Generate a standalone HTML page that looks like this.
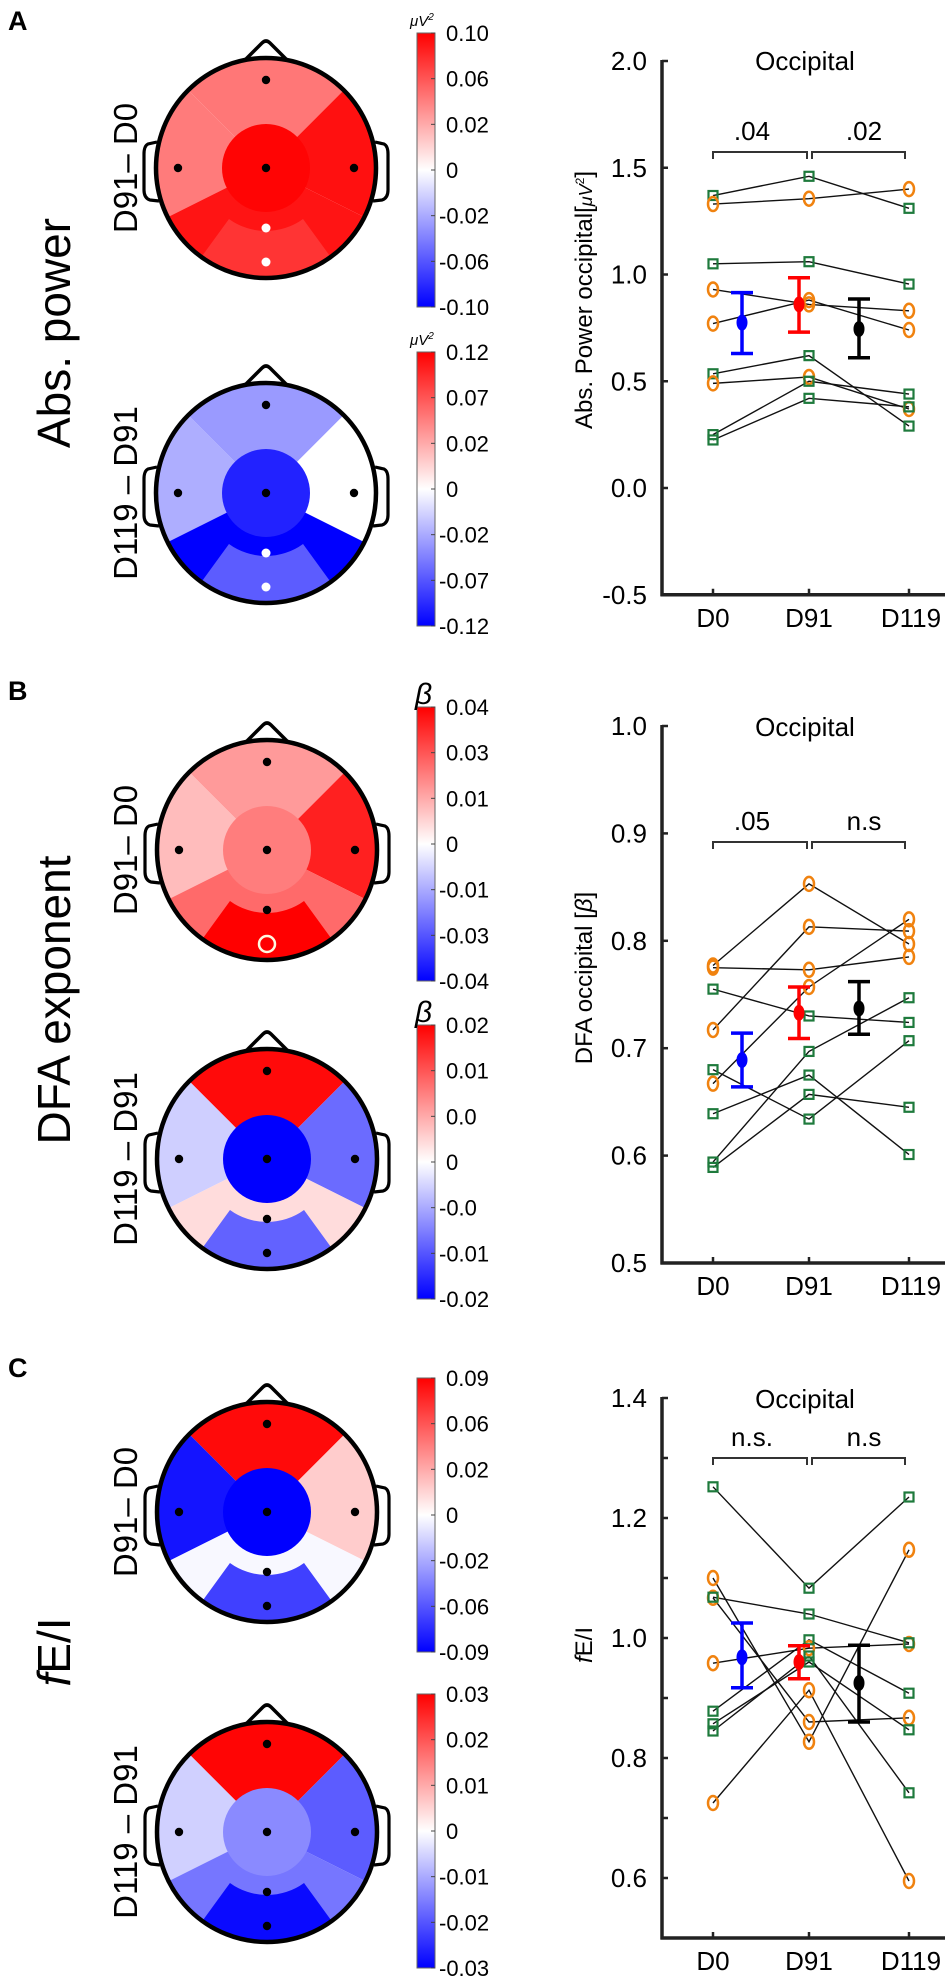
<!DOCTYPE html>
<html><head><meta charset="utf-8">
<style>
html,body{margin:0;padding:0;background:#fff;}
svg{display:block;font-family:"Liberation Sans",Arial,sans-serif;}
</style></head>
<body>
<svg id="fig" xmlns="http://www.w3.org/2000/svg" width="950" height="1978" viewBox="0 0 950 1978">
<defs>
<linearGradient id="cbgrad" x1="0" y1="0" x2="0" y2="1">
<stop offset="0" stop-color="#ff0000"/><stop offset="0.5" stop-color="#ffffff"/><stop offset="1" stop-color="#0000ff"/>
</linearGradient>
</defs>
<text x="8" y="30" font-size="27" font-weight="bold">A</text>
<text x="8" y="700" font-size="27" font-weight="bold">B</text>
<text x="8" y="1377" font-size="27" font-weight="bold">C</text>
<text transform="translate(70,333) rotate(-90)" text-anchor="middle" font-size="46">Abs. power</text>
<text transform="translate(70,1000) rotate(-90)" text-anchor="middle" font-size="46">DFA exponent</text>
<text transform="translate(70,1652) rotate(-90)" text-anchor="middle" font-size="46"><tspan font-style="italic">f</tspan>E/I</text>
<g id="heads"></g>
<g id="plots"></g>
</svg>
<script>
// ---------- chart data ----------
const days = ['D0','D91','D119'];
// Panel A: Abs. power
const absTicks = [2.0, 1.5, 1.0, 0.5, 0.0, -0.5];
const absTickLabels = ['2.0','1.5','1.0','0.5','0.0','-0.5'];
const absSubjects = [[1.37,1.46,1.31],[1.33,1.355,1.40],[1.05,1.06,0.955],[0.93,0.86,0.83],[0.77,0.88,0.74],[0.535,0.62,0.29],[0.49,0.52,0.37],[0.25,0.50,0.44],[0.225,0.42,0.38]];
const absTypes = ['sq','ci','sq','ci','ci','sq','ci','sq','sq'];
const absMeans = [0.775, 0.86, 0.745];
const absErrHi = [0.915, 0.985, 0.885];
const absErrLo = [0.63, 0.73, 0.61];
const absSig = ['.04', '.02'];
// Panel B: DFA
const dfaTicks = [1.0, 0.9, 0.8, 0.7, 0.6, 0.5];
const dfaTickLabels = ['1.0','0.9','0.8','0.7','0.6','0.5'];
const dfaSubjects = [[0.777,0.853,0.797],[0.775,0.773,0.785],[0.717,0.813,0.809],[0.667,0.757,0.820],[0.755,0.730,0.724],[0.680,0.634,0.707],[0.639,0.675,0.601],[0.594,0.697,0.747],[0.589,0.657,0.645]];
const dfaTypes = ['ci','ci','ci','ci','sq','sq','sq','sq','sq'];
const dfaMeans = [0.689, 0.733, 0.737];
const dfaErrHi = [0.714, 0.757, 0.762];
const dfaErrLo = [0.664, 0.709, 0.713];
const dfaSig = ['.05', 'n.s'];
// Panel C: fE/I
const feiTicks = [1.4, 1.2, 1.0, 0.8, 0.6];
const feiTickLabels = ['1.4','1.2','1.0','0.8','0.6'];
const feiMinor = [1.3, 1.1, 0.9, 0.7];
const feiSubjects = [[1.252,1.083,1.235],[0.725,0.913,0.595],[1.10,0.827,1.147],[1.067,0.86,0.867],[0.958,0.983,0.99],[1.068,1.04,0.992],[0.878,0.997,0.908],[0.857,0.96,0.847],[0.845,0.97,0.742]];
const feiTypes = ['sq','ci','ci','ci','ci','sq','sq','sq','sq'];
const feiMeans = [0.968, 0.96, 0.925];
const feiErrHi = [1.025, 0.987, 0.988];
const feiErrLo = [0.917, 0.932, 0.86];
const feiSig = ['n.s.', 'n.s'];
// colour bar tick labels
const cbA1 = ['0.10','0.06','0.02','0','-0.02','-0.06','-0.10'];
const cbA2 = ['0.12','0.07','0.02','0','-0.02','-0.07','-0.12'];
const cbB1 = ['0.04','0.03','0.01','0','-0.01','-0.03','-0.04'];
const cbB2 = ['0.02','0.01','0.0','0','-0.0','-0.01','-0.02'];
const cbC1 = ['0.09','0.06','0.02','0','-0.02','-0.06','-0.09'];
const cbC2 = ['0.03','0.02','0.01','0','-0.01','-0.02','-0.03'];
// region colours: top, left, right, center, bottom-inner, bottom-outer
const headA1 = ['#ff7777','#ff7b7b','#ff1010','#ff0404','#ff1414','#ff3434'];
const headA2 = ['#9a9aff','#aeaeff','#ffffff','#2222ff','#0000ff','#5c5cff'];
const headB1 = ['#ff9a9a','#ffbcbc','#ff2020','#ff7d7d','#ff6a6a','#ff0000'];
const headB2 = ['#ff0a0a','#cfcfff','#6b6bff','#0000ff','#ffdcdc','#6262ff'];
const headC1 = ['#ff0a0a','#1414ff','#ffcccc','#0000ff','#f8f8ff','#4040ff'];
const headC2 = ['#ff0505','#d0d0ff','#5c5cff','#8a8aff','#7676ff','#0a0aff'];

// ---------- helpers ----------
const NS = 'http://www.w3.org/2000/svg';
function mk(tag, attrs, parent) {
  const e = document.createElementNS(NS, tag);
  for (const k in attrs) e.setAttribute(k, attrs[k]);
  (parent || document.getElementById('fig')).appendChild(e);
  return e;
}
function pt(cx, cy, a, r) { const t = a * Math.PI / 180; return [cx + r * Math.cos(t), cy + r * Math.sin(t)]; }
function wedge(cx, cy, a1, a2, R) {
  const p1 = pt(cx, cy, a1, R), p2 = pt(cx, cy, a2, R);
  const large = (a2 - a1) > 180 ? 1 : 0;
  return `M${cx},${cy} L${p1[0]},${p1[1]} A${R},${R} 0 ${large} 1 ${p2[0]},${p2[1]} Z`;
}
function annulus(cx, cy, a1, a2, r1, r2) {
  const p1 = pt(cx, cy, a1, r2), p2 = pt(cx, cy, a2, r2), p3 = pt(cx, cy, a2, r1), p4 = pt(cx, cy, a1, r1);
  return `M${p1[0]},${p1[1]} A${r2},${r2} 0 0 1 ${p2[0]},${p2[1]} L${p3[0]},${p3[1]} A${r1},${r1} 0 0 0 ${p4[0]},${p4[1]} Z`;
}

// ---------- heads ----------
const headsG = document.getElementById('heads');
let clipId = 0;
function drawHead(cx, cy, cols, whiteDots, ring, label, cbTop, cbLabels, unit) {
  const g = mk('g', {}, headsG);
  
  
  const R = 110;
  clipId++;
  const cp = mk('clipPath', {id: 'hc' + clipId}, g);
  mk('circle', {cx: cx, cy: cy, r: R}, cp);
  const rg = mk('g', {'clip-path': `url(#hc${clipId})`}, g);
  const regions = [[-135, -45], [153.43, 225], [-45, 26.57], null, [26.57, 153.43]];
  const names = ['region-top','region-left','region-right','region-center','region-bottom'];
  [0, 1, 2, 4].forEach(i => {
    const p = mk('path', {d: wedge(cx, cy, regions[i][0], regions[i][1], R + 8), fill: cols[i]}, rg);
    
    
  });
  const bo = mk('path', {d: annulus(cx, cy, 54, 126, 63, R + 8), fill: cols[5]}, rg);
  
  
  const cc = mk('circle', {cx: cx, cy: cy, r: 44, fill: cols[3]}, rg);
  
  
  const outline = mk('circle', {cx: cx, cy: cy, r: R, fill: 'none', stroke: '#000', 'stroke-width': 4.5}, g);
  
  
  const nose = mk('path', {d: `M${cx - 21},${cy - R + 2} L${cx - 4},${cy - R - 15} Q${cx},${cy - R - 19} ${cx + 4},${cy - R - 15} L${cx + 21},${cy - R + 2}`, fill: 'none', stroke: '#000', 'stroke-width': 3.5, 'stroke-linejoin': 'round'}, g);
  
  
  const earL = mk('path', {d: `M${cx - R + 1},${cy - 26} L${cx - R - 8},${cy - 24} Q${cx - R - 12},${cy - 22} ${cx - R - 12},${cy - 14} L${cx - R - 12},${cy + 22} Q${cx - R - 12},${cy + 30} ${cx - R - 6},${cy + 32} L${cx - R + 3},${cy + 33}`, fill: 'none', stroke: '#000', 'stroke-width': 3.2}, g);
  
  
  const earR = mk('path', {d: `M${cx + R - 1},${cy - 26} L${cx + R + 8},${cy - 24} Q${cx + R + 12},${cy - 22} ${cx + R + 12},${cy - 14} L${cx + R + 12},${cy + 22} Q${cx + R + 12},${cy + 30} ${cx + R + 6},${cy + 32} L${cx + R - 3},${cy + 33}`, fill: 'none', stroke: '#000', 'stroke-width': 3.2}, g);
  
  
  const dots = [[0, -88], [-88, 0], [0, 0], [88, 0], [0, 60], [0, 94]];
  dots.forEach((d, i) => {
    let el;
    if (ring && i === 5) {
      el = mk('circle', {cx: cx + d[0], cy: cy + d[1], r: 8, fill: 'none', stroke: '#fff8e0', 'stroke-width': 2.5}, g);
    } else {
      const white = whiteDots && i >= 4;
      el = mk('circle', {cx: cx + d[0], cy: cy + d[1], r: white ? 4.5 : 4.2, fill: white ? '#fff' : '#000'}, g);
    }
    
    
  });
  const lt = mk('text', {transform: `translate(137,${cy}) rotate(-90)`, 'text-anchor': 'middle', 'font-size': 33}, g);
  lt.textContent = label;
  
  
  // colour bar
  const cbH = 274;
  const cb = mk('rect', {x: 417, y: cbTop, width: 18, height: cbH, fill: 'url(#cbgrad)', stroke: '#666', 'stroke-width': 1}, g);
  
  
  cbLabels.forEach((s, i) => {
    const y = cbTop + i * cbH / 6;
    const tk = mk('line', {x1: 431, x2: 435, y1: y, y2: y, stroke: '#444', 'stroke-width': 1}, g);
    
    
    const t = mk('text', {x: s.startsWith('-') ? 439 : 446, y: y + 8, 'font-size': 22}, g);
    t.textContent = s;
    
    
  });
  if (unit === 'uv') {
    const u = mk('text', {x: 410, y: cbTop - 7, 'font-size': 15, 'font-style': 'italic'}, g);
    u.innerHTML = 'μV<tspan dy="-6" font-size="10">2</tspan>';
    
    
  } else if (unit === 'beta') {
    const u = mk('text', {x: 415, y: cbTop - 3, 'font-size': 30, 'font-style': 'italic'}, g);
    u.textContent = 'β';
    
    
  }
}
drawHead(266, 168, headA1, true, false, 'D91– D0', 33, cbA1, 'uv');
drawHead(266, 493, headA2, true, false, 'D119 – D91', 352, cbA2, 'uv');
drawHead(267, 850, headB1, false, true, 'D91– D0', 707, cbB1, 'beta');
drawHead(267, 1159, headB2, false, false, 'D119 – D91', 1025, cbB2, 'beta');
drawHead(267, 1512, headC1, false, false, 'D91– D0', 1378, cbC1, '');
drawHead(267, 1832, headC2, false, false, 'D119 – D91', 1694, cbC2, '');

// ---------- plots ----------
const plotsG = document.getElementById('plots');
const dayX = [713, 809, 909];
const meanX = [742, 799, 859];
const meanCol = ['#0000ff', '#ff0000', '#000000'];
function drawPlot(cfg) {
  const g = mk('g', {}, plotsG);
  
  
  const y = v => cfg.y0 + (cfg.vTop - v) * cfg.scale;
  const ax = 662, axBottom = y(cfg.vBot);
  const yAxis = mk('line', {x1: ax, x2: ax, y1: y(cfg.vTop) - 1, y2: axBottom + 1.5, stroke: '#222', 'stroke-width': 3.5}, g);
  
  
  const xAxis = mk('line', {x1: ax - 1.5, x2: 945, y1: axBottom, y2: axBottom, stroke: '#222', 'stroke-width': 3.5}, g);
  
  
  cfg.ticks.forEach((v, i) => {
    const tk = mk('line', {x1: ax, x2: ax + 6, y1: y(v), y2: y(v), stroke: '#222', 'stroke-width': 2.5}, g);
    
    
    const t = mk('text', {x: 647, y: y(v) + 9, 'text-anchor': 'end', 'font-size': 26}, g);
    t.textContent = cfg.tickLabels[i];
    
    
  });
  (cfg.minor || []).forEach(v => {
    const tk = mk('line', {x1: ax, x2: ax + 6, y1: y(v), y2: y(v), stroke: '#222', 'stroke-width': 2.5}, g);
    
    
  });
  days.forEach((d, i) => {
    const tk = mk('line', {x1: dayX[i], x2: dayX[i], y1: axBottom, y2: axBottom - 6, stroke: '#222', 'stroke-width': 2.5}, g);
    
    
    const t = mk('text', {x: dayX[i] + (i === 2 ? 2 : 0), y: axBottom + 32, 'text-anchor': 'middle', 'font-size': 26}, g);
    t.textContent = d;
    
    
  });
  const ttl = mk('text', {x: 805, y: cfg.titleY, 'text-anchor': 'middle', 'font-size': 26}, g);
  ttl.textContent = 'Occipital';
  
  
  const yl = mk('text', {transform: `translate(592,${cfg.ylabY}) rotate(-90)`, 'text-anchor': 'middle', 'font-size': 24}, g);
  yl.innerHTML = cfg.ylab;
  
  
  // significance brackets
  const by = cfg.brY;
  const b1 = mk('path', {d: `M${dayX[0]},${by + 7} L${dayX[0]},${by} L${dayX[1] - 2},${by} L${dayX[1] - 2},${by + 7}`, fill: 'none', stroke: '#333', 'stroke-width': 2}, g);
  
  
  const b2 = mk('path', {d: `M${dayX[1] + 3},${by + 7} L${dayX[1] + 3},${by} L${dayX[2] - 4},${by} L${dayX[2] - 4},${by + 7}`, fill: 'none', stroke: '#333', 'stroke-width': 2}, g);
  
  
  const s1 = mk('text', {x: 752, y: by - 12, 'text-anchor': 'middle', 'font-size': 26}, g);
  s1.textContent = cfg.sig[0];
  
  
  const s2 = mk('text', {x: 864, y: by - 12, 'text-anchor': 'middle', 'font-size': 26}, g);
  s2.textContent = cfg.sig[1];
  
  
  // subject lines
  cfg.subjects.forEach(s => {
    const pl = mk('polyline', {points: s.map((v, i) => `${dayX[i]},${y(v)}`).join(' '), fill: 'none', stroke: '#111', 'stroke-width': 1.4}, g);
    
    
  });
  // markers
  cfg.subjects.forEach((s, k) => {
    s.forEach((v, i) => {
      let m;
      if (cfg.types[k] === 'sq') {
        m = mk('rect', {x: dayX[i] - 4.5, y: y(v) - 4.5, width: 9, height: 9, fill: 'none', stroke: '#1e7a3c', 'stroke-width': 2.2}, g);
        
      } else {
        m = mk('ellipse', {cx: dayX[i], cy: y(v), rx: 5, ry: 7, fill: 'none', stroke: '#f0820f', 'stroke-width': 2.5}, g);
        
      }
      
    });
  });
  // means with error bars
  cfg.means.forEach((v, i) => {
    const x = meanX[i], c = meanCol[i];
    const eb = mk('path', {d: `M${x},${y(cfg.hi[i])} L${x},${y(cfg.lo[i])} M${x - 11},${y(cfg.hi[i])} L${x + 11},${y(cfg.hi[i])} M${x - 11},${y(cfg.lo[i])} L${x + 11},${y(cfg.lo[i])}`, fill: 'none', stroke: c, 'stroke-width': 3.5}, g);
    
    
    const mp = mk('ellipse', {cx: x, cy: y(v), rx: 5.5, ry: 8, fill: c}, g);
    
    
  });
}
drawPlot({name: 'abs-power-plot', vTop: 2.0, vBot: -0.5, y0: 61, scale: 213.5, ticks: absTicks, tickLabels: absTickLabels,
  subjects: absSubjects, types: absTypes, means: absMeans, hi: absErrHi, lo: absErrLo, sig: absSig,
  titleY: 70, brY: 152, ylabY: 300, ylab: 'Abs. Power occipital[<tspan font-style="italic" font-size="18">μV</tspan><tspan font-size="12" dy="-8">2</tspan><tspan dy="8">]</tspan>'});
drawPlot({name: 'dfa-plot', vTop: 1.0, vBot: 0.5, y0: 726, scale: 1074, ticks: dfaTicks, tickLabels: dfaTickLabels,
  subjects: dfaSubjects, types: dfaTypes, means: dfaMeans, hi: dfaErrHi, lo: dfaErrLo, sig: dfaSig,
  titleY: 736, brY: 842, ylabY: 978, ylab: 'DFA occipital [<tspan font-style="italic">β</tspan>]'});
drawPlot({name: 'fei-plot', vTop: 1.4, vBot: 0.5, y0: 1398, scale: 600, ticks: feiTicks, tickLabels: feiTickLabels, minor: feiMinor,
  subjects: feiSubjects, types: feiTypes, means: feiMeans, hi: feiErrHi, lo: feiErrLo, sig: feiSig,
  titleY: 1408, brY: 1458, ylabY: 1645, ylab: '<tspan font-style="italic">f</tspan>E/I'});
</script>
</body></html>
